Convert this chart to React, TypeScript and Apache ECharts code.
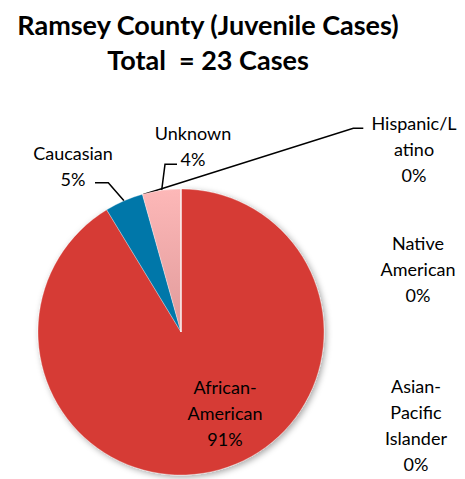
import React, { useEffect, useRef } from "react";
import * as echarts from "echarts";

const titleLines = ["Ramsey County (Juvenile Cases)", "Total  = 23 Cases"];
const categories = ["African-American", "Caucasian", "Unknown", "Hispanic/Latino", "Native American", "Asian-Pacific Islander"];
const labelNames = ["African-\nAmerican", "Caucasian", "Unknown", "Hispanic/L\natino", "Native\nAmerican", "Asian-\nPacific\nIslander"];
const caseCounts = [21, 1, 1, 0, 0, 0];
const percentLabels = ["91%", "5%", "4%", "0%", "0%", "0%"];
const colors = ["#D63B35", "#0077A9", "#F9B3B3", "#8064A2", "#4BACC6", "#F79646"];

const FONT = "Lato, 'Noto Sans', sans-serif";

export default function App() {
  const ref = useRef<HTMLDivElement>(null);
  useEffect(() => {
    if (!ref.current) return;
    const chart = echarts.init(ref.current, undefined, { renderer: "svg" });
    const cx = 181, cy = 332, r = 143;
    // label anchor positions (center of text block)
    const labelPos: [number, number][] = [
      [225, 413],
      [73, 166],
      [193, 146],
      [414, 149],
      [418, 269],
      [416, 425],
    ];
    const data = categories.map((name, i) => ({
      name,
      value: caseCounts[i],
      itemStyle:
        i === 2
          ? {
              color: new echarts.graphic.LinearGradient(0, 0, 0, 1, [
                { offset: 0, color: "#FDB8B8" },
                { offset: 1, color: "#E09A9A" },
              ]),
            }
          : i === 0
          ? {
              color: colors[i],
              shadowBlur: 6,
              shadowOffsetX: 2,
              shadowOffsetY: 2,
              shadowColor: "rgba(0,0,0,0.35)",
            }
          : { color: colors[i] },
      labelLine: { show: i === 1 || i === 2 || i === 3 },
    }));
    chart.setOption({
      animation: false,
      title: {
        text: titleLines.join("\n"),
        left: 203,
        top: 2,
        textAlign: "center",
        textStyle: {
          fontFamily: FONT,
          fontWeight: "bold",
          fontSize: 27,
          lineHeight: 35,
          color: "#000",
        },
      },
      series: [
        {
          type: "pie",
          center: [cx, cy],
          radius: r,
          startAngle: 90,
          clockwise: true,
          stillShowZeroSum: true,
          minShowLabelAngle: 0,
          avoidLabelOverlap: false,
          data,
          itemStyle: { borderColor: "rgba(255,255,255,0.6)", borderWidth: 0.5 },
          label: {
            show: true,
            position: "outside",
            formatter: (p: any) => `${labelNames[p.dataIndex]}\n${percentLabels[p.dataIndex]}`,
            fontFamily: FONT,
            fontSize: 18,
            lineHeight: 26,
            color: "#000",
            align: "center",
          },
          labelLine: {
            show: true,
            lineStyle: { color: "#000", width: 1.5 },
          },
          labelLayout: (p: any) => {
            const i = p.dataIndex;
            const [x, y] = labelPos[i];
            const res: any = { x, y, align: "center", verticalAlign: "middle" };
            if (i === 1) {
              res.labelLinePoints = [[124, 200.8], [108.3, 182.7], [95, 182.7]];
            } else if (i === 2) {
              res.labelLinePoints = [[161.7, 190.2], [165, 164.3], [177, 164.3]];
            } else if (i === 3) {
              res.labelLinePoints = [[143.3, 194.5], [353.3, 128.3], [363.3, 128.3]];
            }
            return res;
          },
        },
      ],
    });
    return () => chart.dispose();
  }, []);
  return (
    <div
      ref={ref}
      style={{ position: "fixed", left: 0, top: 0, width: 465, height: 479, background: "#fff" }}
    />
  );
}
